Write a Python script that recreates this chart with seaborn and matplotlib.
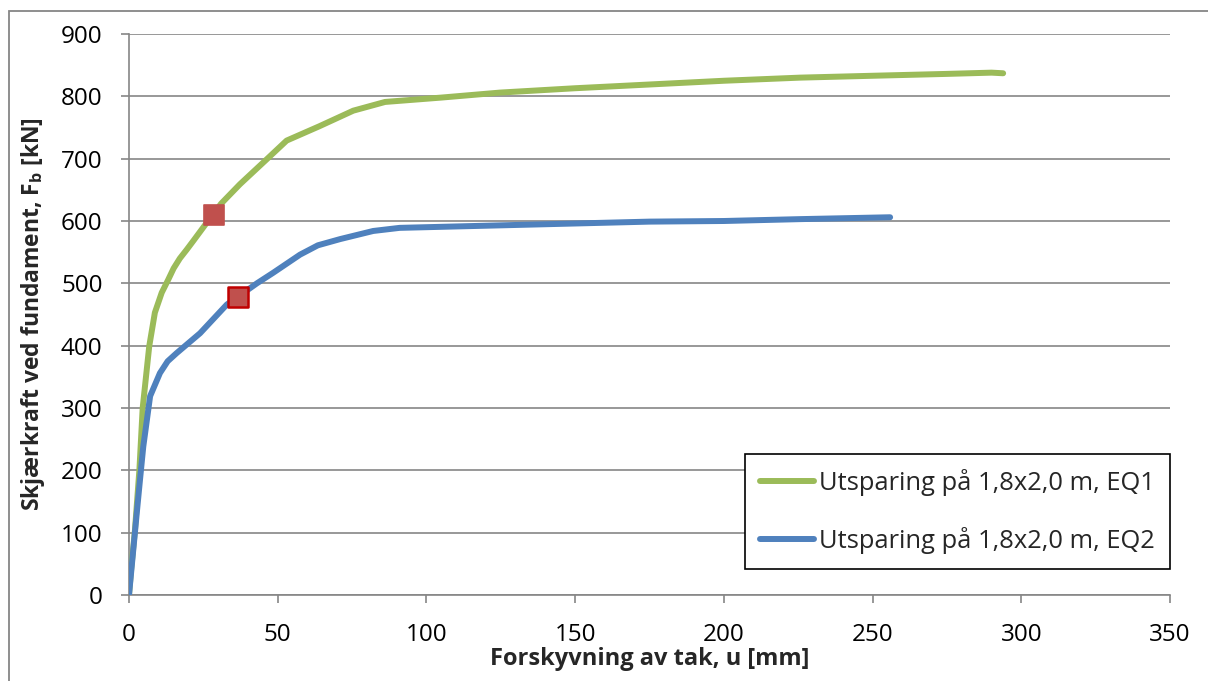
import numpy as np
import pandas as pd
import matplotlib
matplotlib.use("Agg")
import matplotlib.pyplot as plt
from matplotlib.patches import Rectangle
from matplotlib.lines import Line2D
import seaborn as sns

# ---- data ----
eq1_x = [0, 0.7, 2.0, 3.5, 4.6, 6.8, 8.7, 11, 13.2, 15, 17.1, 19.4, 21.6, 26.1, 31, 37.3, 46.3,
         53, 64, 75.4, 86.1, 105, 124.7, 150, 175, 200, 225.6, 250, 275, 290, 293.9]
eq1_y = [0, 40, 104, 201, 300, 399, 453, 485, 506, 524, 540, 554, 568, 597, 628, 659, 699,
         729, 752, 777, 791, 798, 806, 813, 819, 825, 830, 833, 836, 838, 837]

eq2_x = [0, 2.6, 3.7, 4.8, 7.1, 10.4, 13, 16, 23.9, 32.9, 36.5, 43, 48.5, 57.5, 63.5,
         71, 82.1, 91, 124.7, 150, 175, 200, 225.6, 255.9]
eq2_y = [0, 131, 185, 238, 319, 356, 375, 388, 420, 466, 478, 500, 517, 546, 561,
         571, 584, 589, 593, 596, 599, 600, 603, 606]

marker_x = [28.5, 36.5]
marker_y = [610, 478]

series_names = ["Utsparing på 1,8x2,0 m, EQ1", "Utsparing på 1,8x2,0 m, EQ2"]
x_ticks = [0, 50, 100, 150, 200, 250, 300, 350]
y_ticks = [0, 100, 200, 300, 400, 500, 600, 700, 800, 900]

xlabel = "Forskyvning av tak, u [mm]"
ylabel = r"Skjærkraft ved fundament, F$_\mathbf{b}$ [kN]"

colors = {series_names[0]: "#9BBB59", series_names[1]: "#4F81BD"}
grid_c = "#868686"

df = pd.concat([
    pd.DataFrame({"u": eq1_x, "F": eq1_y, "serie": series_names[0]}),
    pd.DataFrame({"u": eq2_x, "F": eq2_y, "serie": series_names[1]}),
], ignore_index=True)

sns.set_theme(style="white")
plt.rcParams["font.family"] = ["Open Sans", "DejaVu Sans"]
plt.rcParams["mathtext.fontset"] = "custom"
plt.rcParams["mathtext.rm"] = "Open Sans"
plt.rcParams["mathtext.bf"] = "Open Sans:bold"

fig = plt.figure(figsize=(12.08, 6.81), dpi=100)
ax = fig.add_axes([129 / 1208, 1 - 595 / 681, (1170 - 129) / 1208, (595 - 34) / 681])

sns.lineplot(data=df, x="u", y="F", hue="serie", palette=colors, sort=False,
             estimator=None, units="serie", linewidth=4.3, ax=ax, legend=False,
             solid_capstyle="round", solid_joinstyle="round", zorder=3)

sns.scatterplot(x=marker_x[:1], y=marker_y[:1], marker="s", s=200, color="#C0504D",
                edgecolor="#C0504D", linewidth=1.2, ax=ax, zorder=4, legend=False)
sns.scatterplot(x=marker_x[1:], y=marker_y[1:], marker="s", s=200, color="#C0504D",
                edgecolor="#C00000", linewidth=1.8, ax=ax, zorder=4, legend=False)

ax.set_xlim(0, 350)
ax.set_ylim(0, 900)
ax.set_xticks(x_ticks)
ax.set_yticks(y_ticks)
ax.set_xticklabels([str(t) for t in x_ticks], fontsize=17.5, color="black")
ax.set_yticklabels([str(t) for t in y_ticks], fontsize=17.5, color="black")

ax.yaxis.grid(True, color=grid_c, linewidth=1.2)
ax.xaxis.grid(False)
ax.set_axisbelow(True)
for s in ["top", "right"]:
    ax.spines[s].set_visible(False)
for s in ["left", "bottom"]:
    ax.spines[s].set_color(grid_c)
    ax.spines[s].set_linewidth(1.2)
ax.tick_params(axis="both", which="major", direction="out", length=6, width=1.2,
               color=grid_c, left=True, bottom=True)
ax.tick_params(axis="y", pad=13)
ax.tick_params(axis="x", pad=14)

ax.set_xlabel(xlabel, fontsize=17, fontweight="bold", labelpad=0)
ax.set_ylabel(ylabel, fontsize=16.5, fontweight="bold", labelpad=10)

handles = [Line2D([0], [0], color=colors[n], lw=4.3, solid_capstyle="round") for n in series_names]
leg = ax.legend(handles, series_names, loc="upper left",
                bbox_to_anchor=(745 / 1208, 1 - 454 / 681), bbox_transform=fig.transFigure,
                borderaxespad=0, frameon=True, fancybox=False, fontsize=18.4,
                handlelength=2.1, handletextpad=0.2, labelspacing=1.2,
                borderpad=0.6, framealpha=1)
leg.get_frame().set_edgecolor("black")
leg.get_frame().set_linewidth(1.2)

fig.add_artist(Rectangle((9 / 1208, -0.1), 1.2, 1.1 - 11 / 681,
                         transform=fig.transFigure, fill=False, edgecolor=grid_c,
                         linewidth=1.3, clip_on=False))

fig.savefig("out.png", dpi=100, facecolor="white")
